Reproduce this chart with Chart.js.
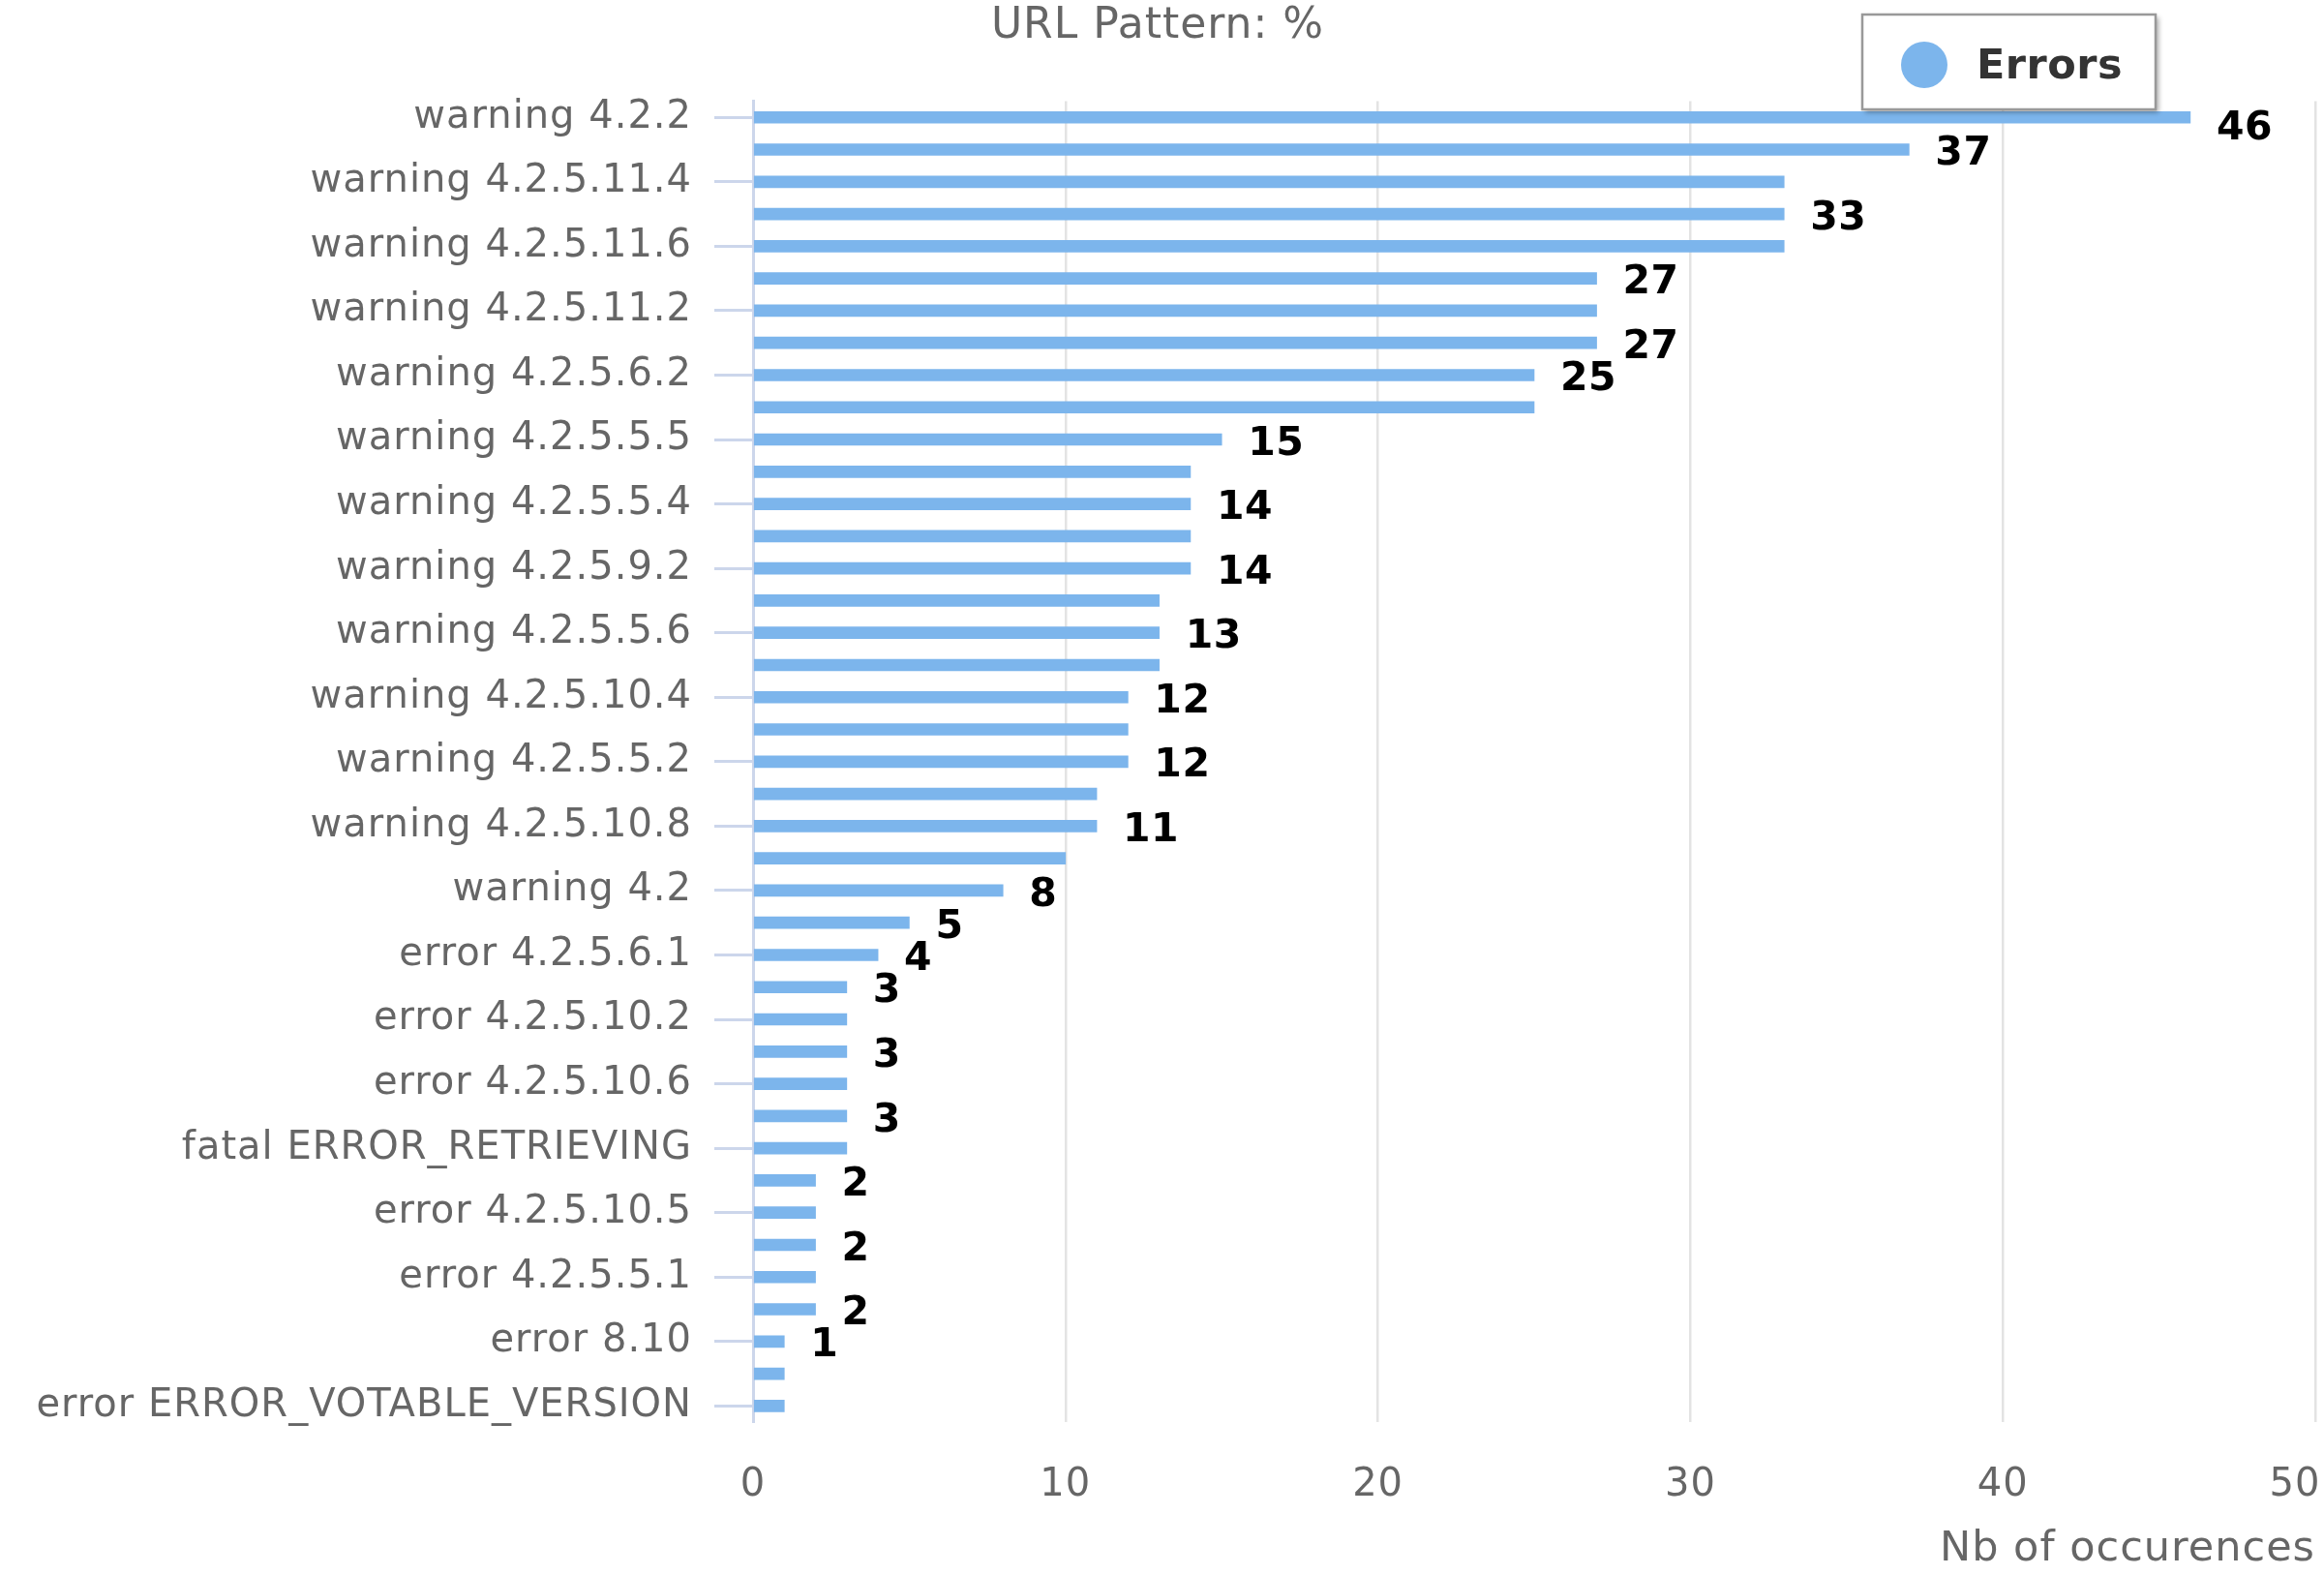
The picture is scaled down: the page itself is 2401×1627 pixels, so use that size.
<!DOCTYPE html>
<html>
<head>
<meta charset="utf-8">
<script src="https://cdn.jsdelivr.net/npm/chart.js@4"></script>
<style>
  html, body { margin: 0; padding: 0; background: #fff; }
  #wrap { width: 2401px; height: 1627px; position: relative; }
</style>
</head>
<body>
<div id="wrap"><canvas id="barChart"></canvas></div>
<script>
// only every second category name is printed on the axis, the others are guesses
const categories = [
  "warning 4.2.2", "warning 4.2.5.11.1", "warning 4.2.5.11.4", "warning 4.2.5.11.5",
  "warning 4.2.5.11.6", "warning 4.2.5.11.3", "warning 4.2.5.11.2", "warning 4.2.5.6.1",
  "warning 4.2.5.6.2", "warning 4.2.5.6.3", "warning 4.2.5.5.5", "warning 4.2.5.5.3",
  "warning 4.2.5.5.4", "warning 4.2.5.9.1", "warning 4.2.5.9.2", "warning 4.2.5.5.7",
  "warning 4.2.5.5.6", "warning 4.2.5.10.3", "warning 4.2.5.10.4", "warning 4.2.5.5.1",
  "warning 4.2.5.5.2", "warning 4.2.5.10.7", "warning 4.2.5.10.8", "warning 4.2.5.10.1",
  "warning 4.2", "error 4.2.5.6.2", "error 4.2.5.6.1", "error 4.2.5.10.1",
  "error 4.2.5.10.2", "error 4.2.5.10.3", "error 4.2.5.10.6", "error 4.2.5.10.4",
  "fatal ERROR_RETRIEVING", "error 4.2.5.10.8", "error 4.2.5.10.5", "error 4.2.5.5.2",
  "error 4.2.5.5.1", "error 4.2.5.9.2", "error 8.10", "error 4.2.5.11.4",
  "error ERROR_VOTABLE_VERSION",
];
const errorCounts = [
  46, 37, 33, 33, 33, 27, 27, 27, 25, 25,
  15, 14, 14, 14, 14, 13, 13, 13, 12, 12,
  12, 11, 11, 10, 8, 5, 4, 3, 3, 3,
  3, 3, 3, 2, 2, 2, 2, 2, 1, 1, 1,
];
// bars whose value label is printed (the rest were hidden as overlapping)
const labelledBars = [0, 1, 3, 5, 7, 8, 10, 12, 14, 16, 18, 20, 22, 24, 25, 26, 27, 29, 31, 33, 35, 37, 38];
const xTicks = [0, 10, 20, 30, 40, 50];

const seriesName = "Errors";
const barColor = "#7cb5ec";
const SPACING = "1px";

Chart.defaults.font.family = "'DejaVu Sans', sans-serif";
Chart.defaults.color = "#666666";

const letterSpacing = {
  id: "letterSpacing",
  beforeUpdate(chart) { chart.ctx.letterSpacing = SPACING; },
  beforeDraw(chart) { chart.ctx.letterSpacing = SPACING; },
};

const valueLabels = {
  id: "valueLabels",
  afterDatasetsDraw(chart) {
    const ctx = chart.ctx;
    const meta = chart.getDatasetMeta(0);
    const top = chart.chartArea.top;
    ctx.save();
    ctx.letterSpacing = "0.5px";
    ctx.font = "bold 41px 'DejaVu Sans'";
    ctx.fillStyle = "#000000";
    ctx.textAlign = "left";
    ctx.textBaseline = "middle";
    labelledBars.forEach((i) => {
      const bar = meta.data[i];
      const y = Math.max(bar.y, top + 24) + 5;
      ctx.fillText(String(errorCounts[i]), bar.x + 27, y);
    });
    ctx.restore();
  },
};

const floatingLegend = {
  id: "floatingLegend",
  afterDraw(chart) {
    const ctx = chart.ctx;
    const x = 1924, y = 15, w = 303, h = 98;
    ctx.save();
    ctx.shadowColor = "rgba(0,0,0,0.35)";
    ctx.shadowOffsetX = 3;
    ctx.shadowOffsetY = 3;
    ctx.shadowBlur = 5;
    ctx.fillStyle = "#ffffff";
    ctx.fillRect(x, y, w, h);
    ctx.shadowColor = "transparent";
    ctx.strokeStyle = "#999999";
    ctx.lineWidth = 2.5;
    ctx.strokeRect(x, y, w, h);
    ctx.fillStyle = barColor;
    ctx.beginPath();
    ctx.arc(x + 64, y + 52, 24, 0, Math.PI * 2);
    ctx.fill();
    ctx.letterSpacing = "0.5px";
    ctx.font = "bold 43px 'DejaVu Sans'";
    ctx.fillStyle = "#333333";
    ctx.textAlign = "left";
    ctx.textBaseline = "middle";
    ctx.fillText(chart.data.datasets[0].label, x + 118, y + 55);
    ctx.restore();
  },
};

new Chart(document.getElementById("barChart"), {
  type: "bar",
  data: {
    labels: categories,
    datasets: [
      {
        label: seriesName,
        data: errorCounts,
        backgroundColor: barColor,
        barThickness: 12,
        borderWidth: 0,
      },
    ],
  },
  options: {
    indexAxis: "y",
    responsive: true,
    maintainAspectRatio: false,
    animation: false,
    devicePixelRatio: 1,
    layout: { padding: { left: 0, right: 9, top: 0, bottom: 0 } },
    plugins: {
      legend: { display: false },
      tooltip: { enabled: false },
      title: {
        display: true,
        text: "URL Pattern: %",
        color: "#666666",
        font: { size: 44, weight: "normal", lineHeight: 1.15 },
        padding: { top: 2, bottom: 52 },
      },
    },
    scales: {
      x: {
        min: 0,
        max: 50,
        afterBuildTicks(scale) {
          scale.ticks = xTicks.map((v) => ({ value: v }));
        },
        afterFit(scale) {
          scale.height = 158;
          scale.paddingRight = 0;
        },
        ticks: {
          color: "#666666",
          font: { size: 40 },
          padding: 2,
          callback: (v) => (v === 50 ? "50\u2002\u2002" : String(v)),
        },
        grid: {
          color: "#e3e3e3",
          lineWidth: 2.5,
          drawTicks: true,
          tickLength: 40,
          tickColor: "rgba(0,0,0,0)",
        },
        border: { display: false },
        title: {
          display: true,
          text: "Nb of occurences",
          align: "end",
          color: "#666666",
          font: { size: 43 },
          padding: { top: 18, bottom: 0 },
        },
      },
      y: {
        afterFit(scale) {
          scale.width = 778;
          scale.paddingTop = 0;
          scale.paddingBottom = 0;
        },
        ticks: {
          autoSkip: false,
          color: "#666666",
          font: { size: 40 },
          padding: 23,
          callback: function (value, index) {
            return index % 2 === 0 ? this.getLabelForValue(value) : null;
          },
        },
        grid: {
          offset: false,
          drawOnChartArea: false,
          drawTicks: true,
          tickLength: 40,
          tickWidth: 3,
          tickColor: "#ccd6eb",
          color: "#ccd6eb",
        },
        border: { display: true, color: "#ccd6eb", width: 3 },
      },
    },
  },
  plugins: [letterSpacing, valueLabels, floatingLegend],
});
</script>
</body>
</html>
